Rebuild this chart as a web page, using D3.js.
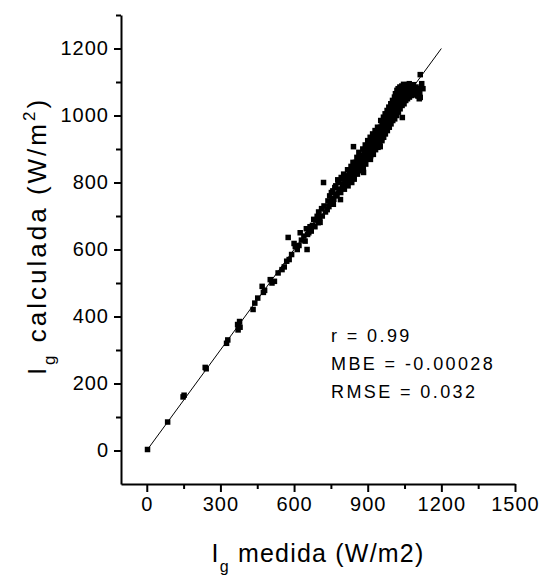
<!DOCTYPE html>
<html>
<head>
<meta charset="utf-8">
<script src="https://cdn.jsdelivr.net/npm/d3@7/dist/d3.min.js"></script>
<style>
  html, body { margin: 0; padding: 0; background: #fff; }
  svg { display: block; }
  text { font-family: "Liberation Sans", Arial, sans-serif; fill: #000; }
</style>
</head>
<body>
<svg id="chart" width="543" height="577"></svg>
<script>
// Measured vs. calculated global irradiance (W/m2), one pair per observation
const measured = [
  3, 85, 148, 152, 238, 242, 325, 330, 370, 372, 375, 378, 380, 433, 440, 452,
  470, 475, 480, 503, 510, 520, 535, 551, 560, 570, 576, 580, 590,
  600, 605, 613, 620, 625, 630, 640, 645, 650, 653, 655, 660, 665, 670, 675, 680,
  685, 690, 694, 698, 700, 705, 706, 712, 715, 720, 722, 728, 735, 738, 742, 745,
  748, 752, 755, 758, 760, 762, 766, 770, 772, 775, 778, 780, 783, 785, 789, 790,
  792, 795, 797, 800, 802, 805, 808, 810, 812, 815, 818, 820, 822, 825, 828, 830,
  832, 835, 837, 838, 840, 842, 842, 844, 845, 848, 850, 852, 855, 856, 858, 860,
  862, 864, 865, 868, 870, 872, 875, 876, 878, 880, 882, 883, 884, 885, 887, 888,
  890, 892, 894, 895, 897, 898, 900, 902, 904, 905, 906, 908, 910, 911, 912, 914,
  915, 916, 918, 920, 922, 923, 924, 925, 926, 928, 930, 932, 934, 935, 936, 938,
  940, 942, 944, 945, 946, 948,
  950, 951, 952, 953, 955, 956, 958, 959, 960, 961, 962, 964, 965, 966, 968, 969,
  970, 971, 972, 974, 975, 976, 978, 979, 980, 981, 982, 984, 985, 986, 988, 989,
  990, 991, 992, 994, 995, 996, 998, 999, 1000, 1001, 1002, 1003, 1005, 1006, 1008, 1009,
  1010, 1011, 1012, 1013, 1015, 1016, 1018, 1019, 1020, 1021, 1022, 1024, 1025, 1026, 1028, 1029,
  1030, 1031, 1032, 1034, 1035, 1036, 1038, 1039, 1040, 1041, 1042, 1043, 1045, 1046, 1047, 1048,
  1049, 1050, 1051, 1052, 1053, 1055, 1056, 1058, 1059, 1060, 1061, 1062, 1063, 1065, 1066, 1068,
  1069, 1070, 1071, 1072, 1073, 1075, 1076, 1078, 1079, 1080, 1082, 1085, 1086, 1088, 1090, 1092,
  1095, 1097, 1100, 1102, 1105, 1106, 1108, 1110, 1114, 1114, 1112, 1120, 1125
];
const calculated = [
  3, 85, 160, 165, 248, 244, 320, 330, 376, 360, 372, 385, 368, 421, 440, 455,
  490, 472, 478, 510, 500, 505, 530, 540, 548, 565, 636, 570, 585,
  618, 609, 600, 612, 650, 628, 640, 625, 662, 600, 645, 650, 668, 655, 672, 690,
  668, 688, 699, 680, 712, 695, 681, 722, 700, 800, 730, 712, 719, 745, 728, 760,
  740, 770, 752, 775, 735, 750, 785, 790, 760, 765, 808, 800, 772, 780, 749, 770,
  815, 810, 788, 795, 825, 780, 808, 820, 795, 805, 838, 790, 815, 830, 808, 815,
  848, 800, 826, 845, 860, 830, 907, 815, 810, 850, 860, 838, 840, 875, 825, 855,
  870, 890, 850, 840, 835, 872, 880, 858, 862, 900, 845, 830, 878, 895, 865, 875,
  912, 855, 890, 905, 870, 885, 925, 870, 900, 915, 880, 895, 935, 869, 880, 912,
  925, 900, 905, 945, 888, 884, 922, 935, 905, 915, 955, 898, 930, 945, 912, 925,
  965, 905, 940, 955, 920, 935,
  915, 907, 965, 985, 945, 930, 925, 970, 975, 950, 955, 995, 935, 980, 985, 960,
  965, 1005, 945, 990, 995, 970, 975, 1015, 955, 1000, 1005, 985, 985, 1025, 965, 1010,
  1015, 990, 995, 1035, 975, 1015, 1020, 1000, 1000, 1045, 985, 1030, 1030, 1010, 1010, 1055,
  990, 1040, 1040, 1065, 1020, 1050, 1000, 1075, 1050, 1060, 1030, 1080, 1010, 1068, 1060, 1045,
  1040, 1085, 1020, 1072, 1065, 1050, 1048, 1088, 1030, 994, 1075, 1060, 1055, 1093, 1080, 1035,
  1068, 1080, 1045, 1062, 1090, 1045, 1075, 1085, 1060, 1068, 1092, 1050, 1078, 1088, 1065, 1072,
  1095, 1055, 1082, 1090, 1070, 1075, 1060, 1060, 1088, 1085, 1070, 1070, 1092, 1078, 1080, 1062,
  1065, 1085, 1075, 1060, 1058, 1080, 1070, 1050, 1122, 1054, 1065, 1095, 1080
];
const refLine = [0, 1200];
const xMajorTicks = [0, 300, 600, 900, 1200, 1500];
const xMinorTicks = [150, 450, 750, 1050, 1350];
const yMajorTicks = [0, 200, 400, 600, 800, 1000, 1200];
const yMinorTicks = [100, 300, 500, 700, 900, 1100, 1300];
const stats = ["r = 0.99", "MBE = -0.00028", "RMSE = 0.032"];

const svg = d3.select("#chart");
const x = d3.scaleLinear().domain([-105, 1500]).range([121, 515]);
const y = d3.scaleLinear().domain([-100, 1300]).range([484, 15]);

// minor ticks
svg.append("g").attr("transform", "translate(0,484)")
  .call(d3.axisBottom(x).tickValues(xMinorTicks).tickSize(5).tickFormat(""))
  .call(g => g.select(".domain").remove())
  .call(g => g.selectAll("line").attr("stroke-width", 2));
svg.append("g").attr("transform", "translate(121,0)")
  .call(d3.axisLeft(y).tickValues(yMinorTicks).tickSize(5).tickFormat(""))
  .call(g => g.select(".domain").remove())
  .call(g => g.selectAll("line").attr("stroke-width", 2));

// major ticks and labels
const fmt = d3.format("d");
const xAxis = svg.append("g").attr("transform", "translate(0,484)")
  .call(d3.axisBottom(x).tickValues(xMajorTicks).tickFormat(fmt)
    .tickSize(8).tickSizeOuter(0).tickPadding(5));
const yAxis = svg.append("g").attr("transform", "translate(121,0)")
  .call(d3.axisLeft(y).tickValues(yMajorTicks).tickFormat(fmt)
    .tickSize(7).tickSizeOuter(0).tickPadding(5));
[xAxis, yAxis].forEach(g => {
  g.select(".domain").attr("stroke-width", 2);
  g.selectAll("line").attr("stroke-width", 2);
  g.selectAll("text").attr("font-size", 20).attr("letter-spacing", 1)
    .style("font-family", "'Liberation Sans', Arial, sans-serif");
});

// 1:1 line
svg.append("line")
  .attr("x1", x(refLine[0])).attr("y1", y(refLine[0]))
  .attr("x2", x(refLine[1])).attr("y2", y(refLine[1]))
  .attr("stroke", "#000").attr("stroke-width", 1);

// points
const pts = measured.map((m, i) => [m, calculated[i]]);
svg.append("g").selectAll("rect").data(pts).join("rect")
  .attr("x", d => x(d[0]) - 2.75).attr("y", d => y(d[1]) - 2.75)
  .attr("width", 5.5).attr("height", 5.5).attr("fill", "#000");

// statistics
svg.append("g").selectAll("text").data(stats).join("text")
  .attr("x", 331).attr("y", (d, i) => 342 + i * 28)
  .attr("font-size", 18).attr("letter-spacing", 2.4)
  .text(d => d);

// axis titles
const xt = svg.append("text").attr("x", 318).attr("y", 562)
  .attr("text-anchor", "middle").attr("font-size", 25).attr("letter-spacing", 1.2);
xt.append("tspan").text("I");
xt.append("tspan").attr("font-size", 16).attr("dy", 10).text("g");
xt.append("tspan").attr("dy", -10).text(" medida (W/m2)");

const yt = svg.append("text").attr("transform", "translate(46,236) rotate(-90)")
  .attr("text-anchor", "middle").attr("font-size", 26).attr("letter-spacing", 3);
yt.append("tspan").text("I");
yt.append("tspan").attr("font-size", 17).attr("dy", 9).text("g");
yt.append("tspan").attr("dy", -9).text(" calculada (W/m");
yt.append("tspan").attr("font-size", 17).attr("dy", -11).text("2");
yt.append("tspan").attr("dy", 11).text(")");
</script>
</body>
</html>
